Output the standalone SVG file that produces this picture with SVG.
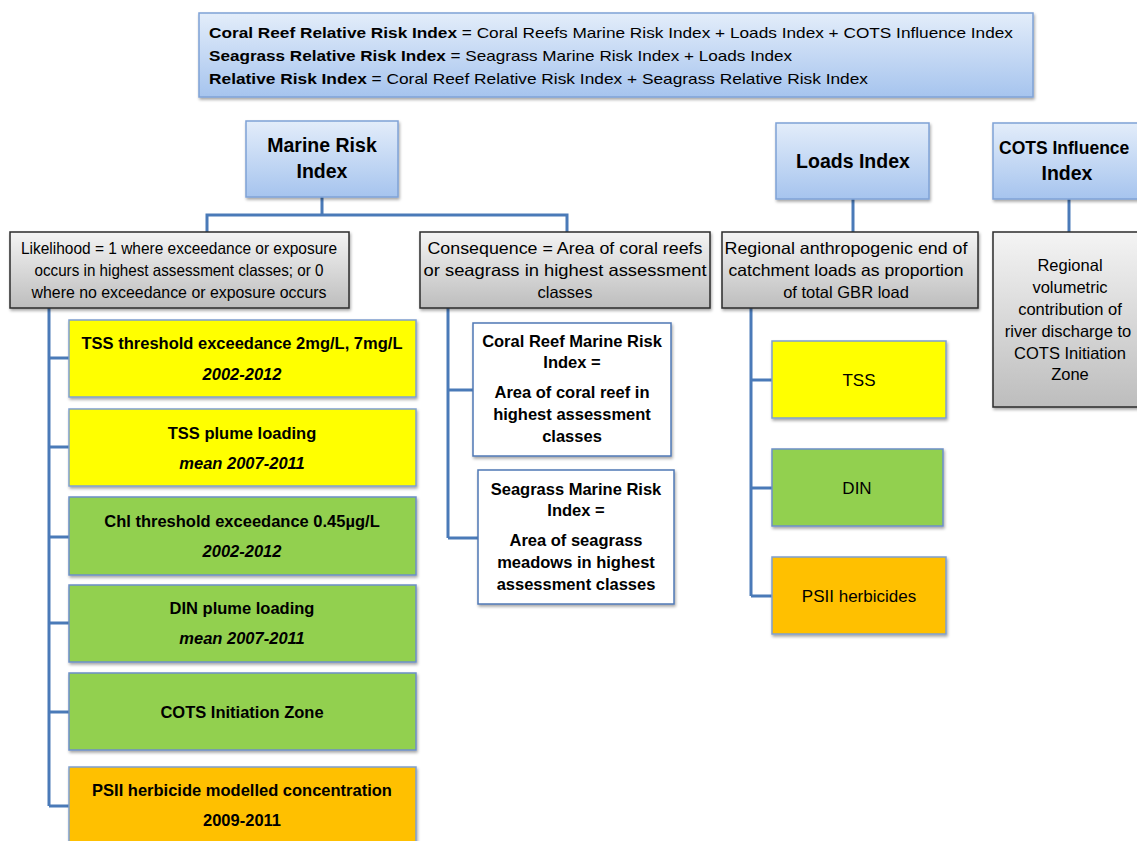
<svg xmlns="http://www.w3.org/2000/svg" width="1137" height="841" viewBox="0 0 1137 841">
<defs>
<linearGradient id="gBlue" x1="0" y1="0" x2="0" y2="1"><stop offset="0" stop-color="#e3edfa"/><stop offset="1" stop-color="#a6c4ee"/></linearGradient>
<linearGradient id="gGray" x1="0" y1="0" x2="0" y2="1"><stop offset="0" stop-color="#f4f4f4"/><stop offset="1" stop-color="#bdbdbd"/></linearGradient>
<filter id="sh" x="-10%" y="-10%" width="120%" height="130%"><feDropShadow dx="1" dy="2" stdDeviation="1.5" flood-color="#000" flood-opacity="0.35"/></filter>
<style>
text{font-family:"Liberation Sans",Arial,sans-serif;fill:#000;text-anchor:middle}
.blue{fill:url(#gBlue);stroke:#7fa2d6;stroke-width:1.5;filter:url(#sh)}
.gray{fill:url(#gGray);stroke:#2b2b2b;stroke-width:1.5;filter:url(#sh)}
.white{fill:#fff;stroke:#4f78b5;stroke-width:1.5;filter:url(#sh)}
.yel{fill:#ffff00;stroke:#7f9fcf;stroke-width:1.5;filter:url(#sh)}
.grn{fill:#92d050;stroke:#6c8fc8;stroke-width:1.5;filter:url(#sh)}
.org{fill:#ffc000;stroke:#7f9fcf;stroke-width:1.5;filter:url(#sh)}
.t{font-size:16.5px}
.s{font-size:17px}
.h{font-size:19.5px;font-weight:bold}
.b{font-size:16.5px;font-weight:bold}
.bi{font-size:16.5px;font-weight:bold;font-style:italic}
.top{font-size:15px;text-anchor:start}
.c{fill:none;stroke:#4a7ab8;stroke-width:3}
</style>
</defs>
<g id="connectors">
<path class="c" d="M322 197 V215 M207 232 V215 H567 V232"/>
<path class="c" d="M853 199 V215 M853 215 V232"/>
<path class="c" d="M1069 199 V232"/>
<path class="c" d="M49 308 V806 M49 358 H69 M49 447 H69 M49 537 H69 M49 623 H69 M49 712 H69 M49 806 H69"/>
<path class="c" d="M448 308 V538 M448 390 H473 M448 538 H478"/>
<path class="c" d="M751 308 V596 M751 380 H772 M751 488 H772 M751 596 H772"/>
</g>
<g id="formula">
<rect class="blue" x="199" y="13" width="834" height="84"/>
<text class="top" x="209" y="38" textLength="804" lengthAdjust="spacingAndGlyphs"><tspan font-weight="bold">Coral Reef Relative Risk Index</tspan>  = Coral Reefs Marine Risk Index + Loads Index + COTS Influence Index</text>
<text class="top" x="209" y="61" textLength="583" lengthAdjust="spacingAndGlyphs"><tspan font-weight="bold">Seagrass Relative Risk Index</tspan>  = Seagrass Marine Risk Index + Loads Index</text>
<text class="top" x="209" y="84" textLength="659" lengthAdjust="spacingAndGlyphs"><tspan font-weight="bold">Relative Risk Index</tspan>  =  Coral Reef Relative Risk Index + Seagrass Relative Risk Index</text>
</g>
<g id="marine">
<rect class="blue" x="246" y="121" width="152" height="76"/>
<text class="h" x="322" y="152">Marine Risk</text>
<text class="h" x="322" y="178">Index</text>
</g>
<g id="loads">
<rect class="blue" x="776" y="123" width="153" height="76"/>
<text class="h" x="853" y="168">Loads Index</text>
</g>
<g id="cots">
<rect class="blue" x="993" y="123" width="156" height="76"/>
<text x="999" y="154" style="text-anchor:start;font-size:17.5px;font-weight:bold">COTS Influence</text>
<text class="h" x="1067" y="180">Index</text>
</g>
<g id="likelihood">
<rect class="gray" x="10" y="232" width="339" height="76"/>
<text class="t" x="179" y="254" textLength="316" lengthAdjust="spacingAndGlyphs">Likelihood = 1 where exceedance or exposure</text>
<text class="t" x="179" y="276" textLength="289" lengthAdjust="spacingAndGlyphs">occurs in highest assessment classes; or 0</text>
<text class="t" x="179" y="298" textLength="295" lengthAdjust="spacingAndGlyphs">where no exceedance  or exposure  occurs</text>
</g>
<g id="consequence">
<rect class="gray" x="420" y="232" width="290" height="76"/>
<text class="t" x="565" y="254" textLength="275" lengthAdjust="spacingAndGlyphs">Consequence = Area of coral reefs</text>
<text class="t" x="565" y="276" textLength="283" lengthAdjust="spacingAndGlyphs">or seagrass in highest assessment</text>
<text class="t" x="565" y="298">classes</text>
</g>
<g id="regional">
<rect class="gray" x="722" y="232" width="256" height="76"/>
<text class="t" x="846" y="254" textLength="243" lengthAdjust="spacingAndGlyphs">Regional anthropogenic end of</text>
<text class="t" x="846" y="276" textLength="235" lengthAdjust="spacingAndGlyphs">catchment loads as proportion</text>
<text class="t" x="846" y="298">of total GBR load</text>
</g>
<g id="cotsvol">
<rect class="gray" x="993" y="232" width="156" height="175"/>
<text class="t" x="1070" y="271">Regional</text>
<text class="t" x="1070" y="293">volumetric</text>
<text class="t" x="1070" y="315">contribution of</text>
<text class="t" x="1068" y="337">river discharge to</text>
<text class="t" x="1070" y="359">COTS Initiation</text>
<text class="t" x="1070" y="380">Zone</text>
</g>
<g id="tss-thr">
<rect class="yel" x="69" y="320" width="347" height="77"/>
<text class="b" x="242" y="349">TSS threshold exceedance 2mg/L, 7mg/L</text>
<text class="bi" x="242" y="380">2002-2012</text>
</g>
<g id="tss-plume">
<rect class="yel" x="69" y="409" width="347" height="77"/>
<text class="b" x="242" y="439">TSS  plume loading</text>
<text class="bi" x="242" y="469">mean 2007-2011</text>
</g>
<g id="chl">
<rect class="grn" x="69" y="497" width="347" height="78"/>
<text class="b" x="242" y="527">Chl  threshold exceedance  0.45µg/L</text>
<text class="bi" x="242" y="557">2002-2012</text>
</g>
<g id="din-plume">
<rect class="grn" x="69" y="585" width="347" height="77"/>
<text class="b" x="242" y="614">DIN plume loading</text>
<text class="bi" x="242" y="644">mean 2007-2011</text>
</g>
<g id="cots-zone">
<rect class="grn" x="69" y="673" width="347" height="77"/>
<text class="b" x="242" y="718">COTS Initiation Zone</text>
</g>
<g id="psii-conc">
<rect class="org" x="69" y="767" width="347" height="90"/>
<text class="b" x="242" y="796">PSII herbicide modelled concentration</text>
<text class="b" x="242" y="826">2009-2011</text>
</g>
<g id="coral-mri">
<rect class="white" x="473" y="323" width="198" height="133"/>
<text class="b" x="572" y="347">Coral Reef Marine Risk</text>
<text class="b" x="572" y="368">Index =</text>
<text class="b" x="572" y="398">Area of coral reef in</text>
<text class="b" x="572" y="420">highest assessment</text>
<text class="b" x="572" y="442">classes</text>
</g>
<g id="seagrass-mri">
<rect class="white" x="478" y="470" width="196" height="134"/>
<text class="b" x="576" y="495">Seagrass Marine Risk</text>
<text class="b" x="576" y="516">Index =</text>
<text class="b" x="576" y="546">Area of seagrass</text>
<text class="b" x="576" y="568">meadows in highest</text>
<text class="b" x="576" y="590">assessment classes</text>
</g>
<g id="tss-load">
<rect class="yel" x="772" y="341" width="174" height="77"/>
<text class="s" x="859" y="386">TSS</text>
</g>
<g id="din-load">
<rect class="grn" x="772" y="449" width="171" height="77"/>
<text class="s" x="857" y="494">DIN</text>
</g>
<g id="psii-load">
<rect class="org" x="772" y="557" width="174" height="77"/>
<text class="s" x="859" y="602">PSII herbicides</text>
</g>
</svg>
